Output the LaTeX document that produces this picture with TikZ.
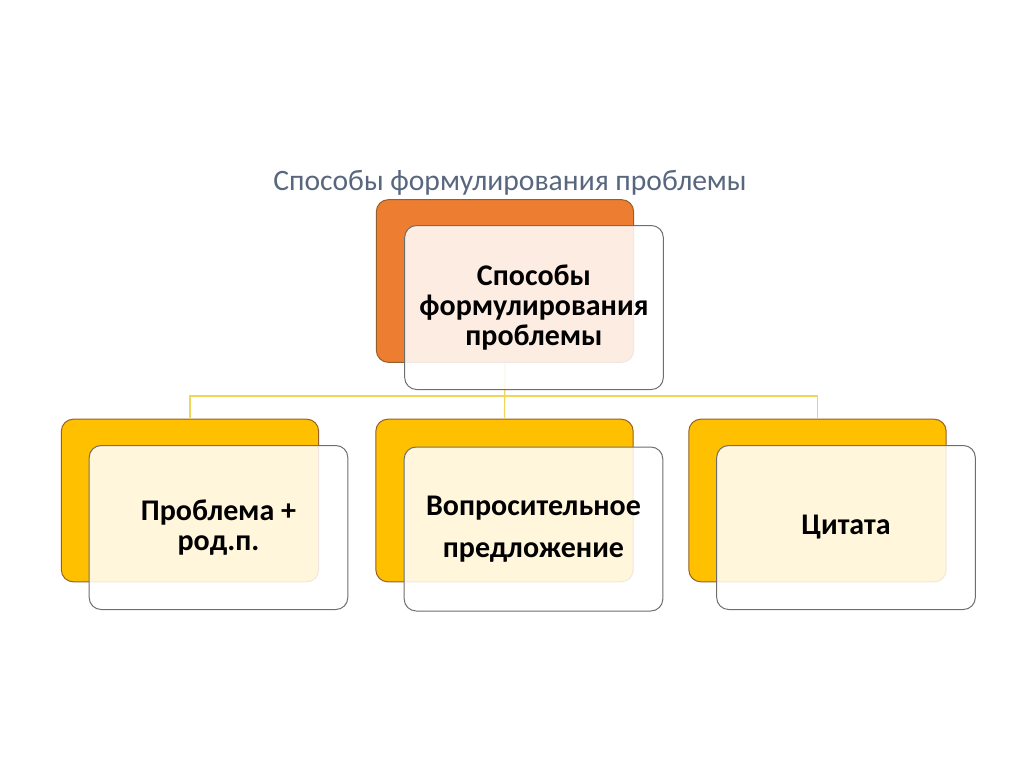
\documentclass[tikz,border=0pt]{standalone}
\usepackage{fontspec}
\setmainfont{Carlito}
\usetikzlibrary{positioning,calc}
\definecolor{boxorange}{RGB}{237,125,49}
\definecolor{boxyellow}{RGB}{255,192,0}
\definecolor{edgebrown}{RGB}{150,95,40}
\definecolor{edgegray}{RGB}{110,110,110}
\definecolor{linkyellow}{RGB}{240,214,90}
\definecolor{titleblue}{RGB}{88,102,126}
\tikzset{every picture/.style={line width=0.75pt}}

\begin{document}
\begin{tikzpicture}[x=0.75pt,y=-0.75pt,
    backbox/.style={draw=edgebrown, rounded corners=9pt, minimum width=193pt, minimum height=122pt},
    frontbox/.style={draw=edgegray, fill=white, fill opacity=0.86, text opacity=1,
        rounded corners=9pt, minimum width=194pt, minimum height=123pt, align=center,
        font=\bfseries\fontsize{22.5}{22.5}\selectfont},
    link/.style={draw=linkyellow, line width=0.9pt}]
    \useasboundingbox (0,0) rectangle (1024,767);

    % заголовок
    \node[text=titleblue, font=\fontsize{22.2}{26}\selectfont] (title) at (510,183) {Способы формулирования проблемы};

    % задние плашки
    \node[backbox, fill=boxorange] (topback) at (505,281) {};
    \node[backbox, fill=boxyellow] (leftback) at (190,500.5) {};
    \node[backbox, fill=boxyellow] (midback) at (504.5,500.5) {};
    \node[backbox, fill=boxyellow] (rightback) at (817.5,500.5) {};

    % связи
    \coordinate (bar) at (505,396);
    \draw[link] (topback.south) -- (midback.north);
    \draw[link] (leftback.north) |- (bar) -| (rightback.north);

    % передние плашки с текстом
    \node[frontbox] (top) at (534,307.5) {Способы\\формулирования\\проблемы};
    \node[frontbox] (left) at (218.5,527.5) {Проблема +\\род.п.};
    \node[frontbox, font=\bfseries\fontsize{22.5}{31.5}\selectfont] (mid) at (533.5,529) {Вопросительное\\предложение};
    \node[frontbox] (right) at (846,527.5) {Цитата};
\end{tikzpicture}
\end{document}
